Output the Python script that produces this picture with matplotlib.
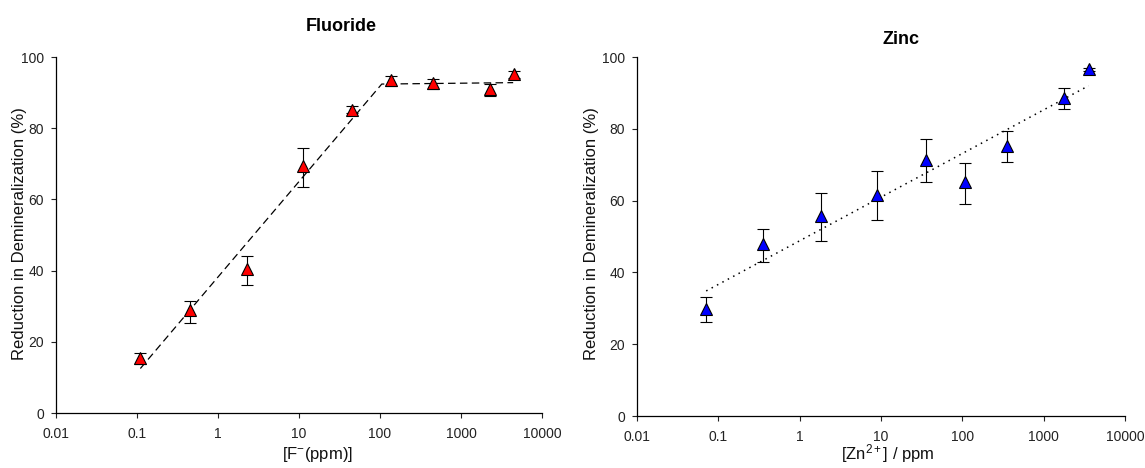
import numpy as np
import matplotlib
matplotlib.use("Agg")
import matplotlib.pyplot as plt

plt.rcParams['font.family'] = ['Liberation Sans', 'DejaVu Sans']
plt.rcParams['mathtext.fontset'] = 'custom'
plt.rcParams['mathtext.rm'] = 'Liberation Sans'
plt.rcParams['mathtext.it'] = 'Liberation Sans:italic'

# Fluoride data
fluoride_conc = [0.110, 0.447, 2.26, 11.3, 45.3, 137, 450, 2250, 4550]
fluoride_red = [15.4, 28.8, 40.4, 69.5, 85.2, 93.6, 92.7, 91.0, 95.1]
fluoride_err_up = [1.5, 2.8, 3.8, 4.9, 0.9, 1.2, 1.2, 1.4, 0.9]
fluoride_err_dn = [1.5, 3.4, 4.5, 6.0, 1.0, 1.8, 1.7, 1.9, 1.1]
fluoride_fit_x = [0.11, 105, 4400]
fluoride_fit_y = [12.5, 92.4, 92.8]

# Zinc data
zinc_conc = [0.071, 0.357, 1.81, 9.06, 35.7, 108, 359, 1800, 3573]
zinc_red = [29.9, 47.8, 55.7, 61.7, 71.4, 65.1, 75.3, 88.7, 96.6]
zinc_err_up = [3.3, 4.3, 6.4, 6.5, 5.8, 5.5, 4.1, 2.6, 0.5]
zinc_err_dn = [3.7, 5.0, 6.8, 7.2, 6.2, 6.0, 4.6, 3.2, 0.5]

yticks = [0, 20, 40, 60, 80, 100]
xticks = [0.01, 0.1, 1, 10, 100, 1000, 10000]
xticklabels = ['0.01', '0.1', '1', '10', '100', '1000', '10000']

fig = plt.figure(figsize=(11.45, 4.68), dpi=100)
ax1 = fig.add_axes([0.0489, 0.1175, 0.4245, 0.7607])
ax2 = fig.add_axes([0.5563, 0.111, 0.4262, 0.767])

def style(ax):
    ax.set_xscale('log')
    ax.set_xlim(0.01, 10000)
    ax.set_ylim(0, 100)
    ax.set_xticks(xticks)
    ax.set_xticklabels(xticklabels)
    ax.xaxis.set_minor_locator(matplotlib.ticker.NullLocator())
    ax.set_yticks(yticks)
    for s in ['top', 'right']:
        ax.spines[s].set_visible(False)
    for s in ['left', 'bottom']:
        ax.spines[s].set_linewidth(0.9)
    ax.tick_params(labelsize=10, length=3.5, width=0.8, direction='out',
                   colors='#222222')
    ax.tick_params(axis='x', pad=6.5)
    ax.tick_params(axis='y', pad=5)

lab_kw = dict(fontsize=12, color='#111111')

# Fluoride
style(ax1)
ax1.plot(fluoride_fit_x, fluoride_fit_y, color='black', lw=0.9, dashes=(6, 3.5), zorder=2)
ax1.errorbar(fluoride_conc, fluoride_red, yerr=[fluoride_err_dn, fluoride_err_up],
             fmt='^', color='red', mec='black', mew=0.8, ms=9,
             ecolor='black', elinewidth=0.8, capsize=4, capthick=0.8, zorder=3)
fig.text(0.2769, 0.0278, '[F$^{-}$(ppm)]', ha='center', va='center', **lab_kw)
fig.text(0.0166, 0.502, 'Reduction in Demineralization (%)', rotation=90,
         ha='center', va='center', **lab_kw)
fig.text(0.298, 0.944, 'Fluoride', ha='center', va='center', fontsize=13, fontweight='bold')

# Zinc
style(ax2)
zlog = np.log10(zinc_conc)
coef = np.polyfit(zlog, zinc_red, 1)
fx = np.array([min(zinc_conc), max(zinc_conc)])
ax2.plot(fx, np.polyval(coef, np.log10(fx)), color='black', lw=1.1, ls=(0, (1, 3)), zorder=2)
ax2.errorbar(zinc_conc, zinc_red, yerr=[zinc_err_dn, zinc_err_up],
             fmt='^', color='blue', mec='black', mew=0.8, ms=9,
             ecolor='black', elinewidth=0.8, capsize=4, capthick=0.8, zorder=3)
fig.text(0.7755, 0.006, '[Zn$^{2+}$] / ppm', ha='center', va='bottom', **lab_kw)
fig.text(0.517, 0.502, 'Reduction in Demineralization (%)', rotation=90,
         ha='center', va='center', **lab_kw)
fig.text(0.787, 0.915, 'Zinc', ha='center', va='center', fontsize=13, fontweight='bold')

fig.savefig('out.png', dpi=100)
